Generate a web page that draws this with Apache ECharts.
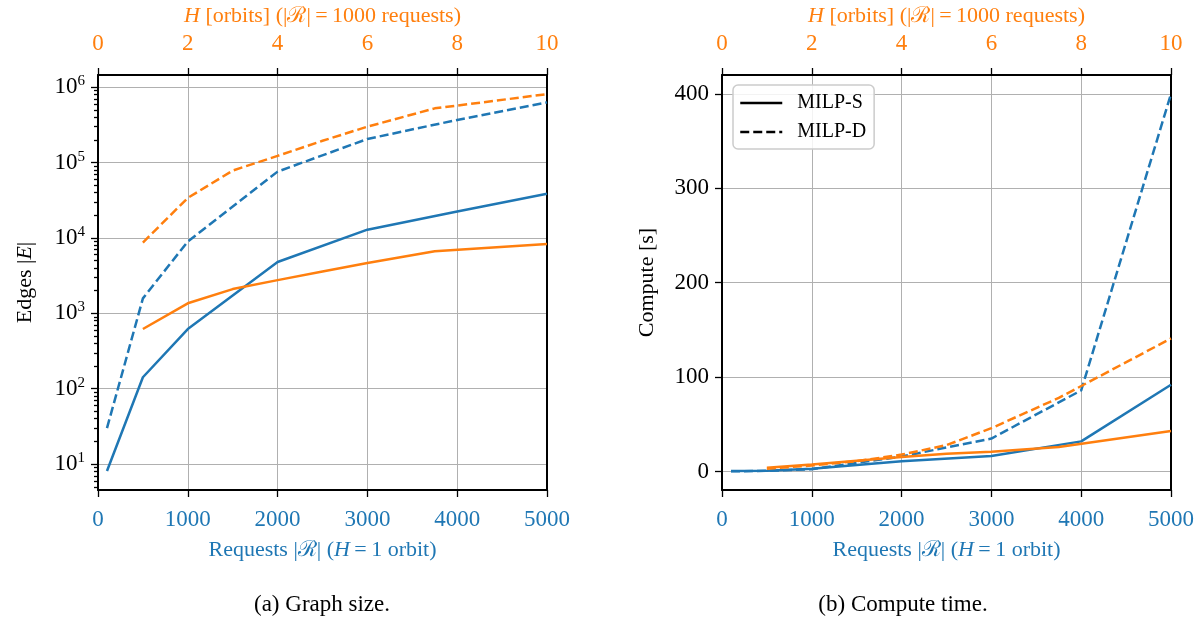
<!DOCTYPE html>
<html><head><meta charset="utf-8">
<script src="https://cdn.jsdelivr.net/npm/echarts@6/dist/echarts.min.js"></script>
<style>html,body{margin:0;padding:0;background:#fff}#c{width:1202px;height:624px}</style>
</head><body><div id="c"></div>
<script>
// ---- data ----
const requests = [100, 500, 1000, 2000, 3000, 4000, 5000];
const orbits = [1, 2, 3, 4, 5, 6, 7.5, 10];
const edgesS_req = [8.1, 142, 619, 4800, 12900, 22500, 38600];
const edgesD_req = [30, 1580, 9000, 76000, 206000, 369000, 630000];
const edgesS_orb = [620, 1360, 2100, 2760, 3600, 4660, 6650, 8300];
const edgesD_orb = [8700, 34000, 78500, 123000, 195000, 300000, 525000, 810000];
const timeS_req = [0.5, 1, 3, 11, 16.5, 32, 92];
const timeD_req = [0.3, 0.8, 2.5, 16, 35, 86, 400];
const timeS_orb = [4, 7.5, 11.5, 15.5, 19, 21, 26, 43];
const timeD_orb = [3, 6.5, 11, 18, 28, 46, 78, 141];
const reqTicks = [0, 1000, 2000, 3000, 4000, 5000];
const orbitTicks = [0, 2, 4, 6, 8, 10];
const edgeMajor = [10, 100, 1000, 10000, 100000, 1000000];
const edgeMinor = [5,6,7,8,9,20,30,40,50,60,70,80,90,200,300,400,500,600,700,800,900,
  2000,3000,4000,5000,6000,7000,8000,9000,20000,30000,40000,50000,60000,70000,80000,90000,
  200000,300000,400000,500000,600000,700000,800000,900000];
const timeTicks = [0, 100, 200, 300, 400];

const BLUE = '#1f77b4', ORANGE = '#ff7f0e';
const FONT = 'Liberation Serif, DejaVu Serif, serif';
const FS = 23;
const DASH = [9, 4];
const pair = (xs, ys) => xs.map((x, i) => [x, ys[i]]);

const chart = echarts.init(document.getElementById('c'), null, {renderer: 'canvas'});
const grids = [
  {left: 98, top: 75, width: 449, height: 415},
  {left: 722, top: 75, width: 449, height: 415}
];
const spine = {show: true, onZero: false, lineStyle: {color: '#000', width: 2}};
const tick = (len) => ({show: true, inside: false, length: len, lineStyle: {color: '#000', width: 1.3}});
const grid = {show: true, lineStyle: {color: '#b0b0b0', width: 1}};
const richName = (color) => ({
  t: {fontFamily: FONT, fontSize: 22, color: color},
  i: {fontFamily: FONT, fontSize: 22, color: color, fontStyle: 'italic'}
});
const plain = v => String(v);

function bottomX(g) {
  return {type: 'value', gridIndex: g, position: 'bottom', min: 0, max: 5000, interval: 1000,
    axisLine: spine, axisTick: tick(7),
    axisLabel: {color: BLUE, fontSize: FS, fontFamily: FONT, margin: 18, customValues: reqTicks, formatter: plain},
    splitLine: grid,
    name: '{t|Requests |ℛ| (}{i|H}{t|\u2009=\u20091 orbit)}', nameLocation: 'middle', nameGap: 49,
    nameTextStyle: {rich: richName(BLUE)}};
}
function topX(g) {
  return {type: 'value', gridIndex: g, position: 'top', min: 0, max: 10, interval: 2,
    axisLine: spine, axisTick: tick(7),
    axisLabel: {color: ORANGE, fontSize: FS, fontFamily: FONT, margin: 20, customValues: orbitTicks, formatter: plain},
    splitLine: {show: false},
    name: '{i|H}{t| [orbits] (|ℛ|\u2009=\u20091000 requests)}', nameLocation: 'middle', nameGap: 47,
    nameTextStyle: {rich: richName(ORANGE)}};
}
function rightSpine(g) {
  return {type: 'value', gridIndex: g, position: 'right', min: 0, max: 1,
    axisLine: spine, axisTick: {show: false}, axisLabel: {show: false}, splitLine: {show: false}};
}

const xAxis = [bottomX(0), topX(0), bottomX(1), topX(1)];
const yAxis = [
  {type: 'log', logBase: 10, gridIndex: 0, position: 'left', min: 4.53, max: 1.455e6,
    axisLine: spine, axisTick: Object.assign(tick(7), {customValues: edgeMajor}),
    axisLabel: {customValues: edgeMajor, margin: 13,
      formatter: v => '{b|10}{s|' + Math.round(Math.log10(v)) + '}',
      rich: {b: {fontFamily: FONT, fontSize: FS, color: '#000'},
             s: {fontFamily: FONT, fontSize: 15, color: '#000', padding: [0, 0, 12, 0]}}},
    splitLine: grid,
    name: '{t|Edges |}{i|E}{t||}', nameLocation: 'middle', nameGap: 62,
    nameTextStyle: {rich: richName('#000')}},
  {type: 'log', logBase: 10, gridIndex: 0, position: 'left', min: 4.53, max: 1.455e6,
    axisLine: {show: false}, axisTick: Object.assign(tick(4), {customValues: edgeMinor}),
    axisLabel: {show: false}, splitLine: {show: false}},
  rightSpine(0),
  {type: 'value', gridIndex: 1, position: 'left', min: -19.5, max: 420,
    axisLine: spine, axisTick: Object.assign(tick(7), {customValues: timeTicks}),
    axisLabel: {customValues: timeTicks, margin: 13, color: '#000', fontSize: FS, fontFamily: FONT},
    splitLine: grid,
    name: 'Compute [s]', nameLocation: 'middle', nameGap: 64,
    nameTextStyle: {fontFamily: FONT, fontSize: 22, color: '#000'}},
  rightSpine(1)
];

function line(name, xi, yi, data, color, dashed) {
  return {type: 'line', name: name, xAxisIndex: xi, yAxisIndex: yi, data: data,
    symbol: 'none', smooth: false, clip: true, z: 3,
    lineStyle: {color: color, width: 2.5, type: dashed ? DASH : 'solid'},
    itemStyle: {color: color}};
}

const series = [
  line('edges-S-req', 0, 0, pair(requests, edgesS_req), BLUE, false),
  line('edges-D-req', 0, 0, pair(requests, edgesD_req), BLUE, true),
  line('edges-S-orb', 1, 0, pair(orbits, edgesS_orb), ORANGE, false),
  line('edges-D-orb', 1, 0, pair(orbits, edgesD_orb), ORANGE, true),
  line('time-S-req', 2, 3, pair(requests, timeS_req), BLUE, false),
  line('time-D-req', 2, 3, pair(requests, timeD_req), BLUE, true),
  line('time-S-orb', 3, 3, pair(orbits, timeS_orb), ORANGE, false),
  line('time-D-orb', 3, 3, pair(orbits, timeD_orb), ORANGE, true),
  line('MILP-S', 2, 3, [], '#000', false),
  line('MILP-D', 2, 3, [], '#000', true)
];

chart.setOption({
  animation: false,
  backgroundColor: '#fff',
  grid: grids,
  xAxis: xAxis,
  yAxis: yAxis,
  series: series,
  legend: {data: ['MILP-S', 'MILP-D'], orient: 'vertical', left: 733, top: 85,
    itemWidth: 42, itemHeight: 14, itemGap: 9, padding: [8, 8, 7, 6],
    itemStyle: {color: 'rgba(0,0,0,0)', borderColor: 'rgba(0,0,0,0)', borderWidth: 0},
    lineStyle: {width: 2.5},
    formatter: n => '\u2002' + n,
    borderColor: '#cccccc', borderWidth: 1.5, borderRadius: 5, backgroundColor: 'rgba(255,255,255,0.85)',
    textStyle: {fontFamily: FONT, fontSize: 20, color: '#000'}},
  graphic: [
    {type: 'text', x: 322, y: 605, style: {text: '(a) Graph size.', fontFamily: FONT, fontSize: 23,
      fill: '#000', align: 'center', verticalAlign: 'middle'}},
    {type: 'text', x: 903, y: 605, style: {text: '(b) Compute time.', fontFamily: FONT, fontSize: 23,
      fill: '#000', align: 'center', verticalAlign: 'middle'}}
  ]
});
</script></body></html>
